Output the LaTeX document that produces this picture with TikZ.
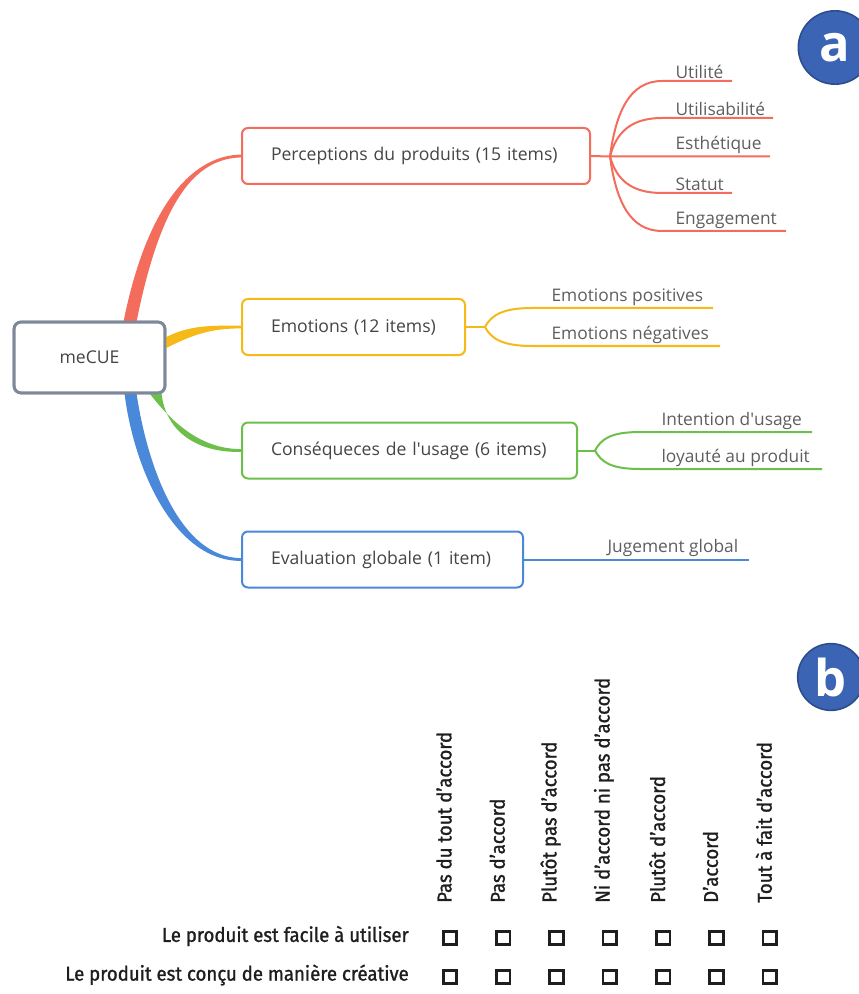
\documentclass[tikz,border=0pt]{standalone}
\usepackage{fontspec}
\setmainfont{Open Sans}
\newfontfamily\condf[FakeStretch=0.93,FakeBold=1.2]{Fira Sans}
\usetikzlibrary{calc}
\definecolor{redc}{HTML}{F36C5C}
\definecolor{yelc}{HTML}{F5B918}
\definecolor{grec}{HTML}{6CBF4B}
\definecolor{bluc}{HTML}{4A88DA}
\definecolor{grayc}{HTML}{7E8898}
\definecolor{txtc}{HTML}{454545}
\definecolor{leafc}{HTML}{5E5E5E}
\definecolor{circc}{HTML}{3C64B4}
\definecolor{circd}{HTML}{2C4C8E}
\definecolor{darkc}{HTML}{1E1E1E}
\begin{document}
\begin{tikzpicture}[x=0.75pt,y=-0.75pt,
  catbox/.style={draw=#1, line width=1.5pt, rounded corners=4.5pt, fill=white,
    anchor=west, minimum height=42pt, inner xsep=21.75pt, align=left,
    text=txtc, font=\fontsize{13.2}{15}\selectfont},
  rootbox/.style={draw=grayc, line width=2.2pt, rounded corners=5pt, fill=white, minimum width=113pt,
    minimum height=53pt, text=txtc, font=\fontsize{13.2}{15}\selectfont},
  leaf/.style={anchor=south west, inner sep=1pt, text=leafc, font=\fontsize{13}{15}\selectfont},
  twig/.style={draw=#1, line width=1.5pt},
  badge/.style={circle, fill=circc, draw=circd, line width=1.2pt, text=white,
    font=\fontsize{38}{38}\selectfont\bfseries},
  cbox/.style={draw=darkc, line width=2pt, minimum size=10.2pt, inner sep=0pt},
  rotlab/.style={rotate=90, anchor=west, inner sep=0pt, text=darkc, font=\condf\fontsize{15}{17}\selectfont},
  rowlab/.style={anchor=east, inner sep=0pt, text=darkc, font=\condf\fontsize{15}{17}\selectfont}
]
\useasboundingbox (0,0) rectangle (858,994);

% root
\node[rootbox] (me) at (89.5,357.5) {meCUE};

% category boxes
\node[catbox=redc, text width=217.5pt] (per) at (241,156) {Perceptions du produits (15 items)};
\node[catbox=yelc, text width=123.75pt] (emo) at (241,327) {Emotions (12 items)};
\node[catbox=grec, text width=207.75pt] (con) at (241,450.5) {Conséqueces de l\textquotesingle usage (6 items)};
\node[catbox=bluc, text width=167.25pt] (eva) at (241,559.5) {Evaluation globale (1 item)};

% tapered main branches
\fill[redc] ($(me.north)+(34,1)$) .. controls (148,200) and (195,155.3) .. ($(per.west)+(0,-1.4)$)
  -- ($(per.west)+(0,1.4)$) .. controls (195,158.7) and (161,200) .. ($(me.north)+(47,1)$) -- cycle;
\fill[yelc] ($(me.east)+(-1,-20)$) .. controls (190,325) and (210,325.6) .. ($(emo.west)+(0,-1.4)$)
  -- ($(emo.west)+(0,1.4)$) .. controls (210,328.4) and (192,335) .. ($(me.east)+(-1,-9)$) -- cycle;
\fill[grec] ($(me.south)+(60,-1)$) .. controls (176,428) and (205,449.1) .. ($(con.west)+(0,-1.4)$)
  -- ($(con.west)+(0,1.4)$) .. controls (200,452.9) and (166,434) .. ($(me.south)+(72,-1)$) -- cycle;
\fill[bluc] ($(me.south)+(35,-1)$) .. controls (134,470) and (175,561.4) .. ($(eva.west)+(0,1.4)$)
  -- ($(eva.west)+(0,-1.4)$) .. controls (181,557.6) and (148,470) .. ($(me.south)+(47,-1)$) -- cycle;
% root box redrawn on top of the branch ends
\node[rootbox] (me2) at (me) {meCUE};

% red sub-branches
\coordinate (fr) at (610,156.5);
\draw[twig=redc] (per.east) -- (fr);
\foreach \n/\y/\e in {1/81/732, 2/118/773, 3/156.5/770, 4/193/732, 5/231/786} {
  \coordinate (r\n) at (662,\y);
  \coordinate (r\n e) at (\e,\y);
  \draw[twig=redc] (fr) .. controls ($(fr)!0.6!(fr|-r\n)+(6,0)$) and ($(r\n)+(-32,0)$) .. (r\n) -- (r\n e);
}
\node[leaf] (lr1) at (674,80) {Utilité};
\node[leaf] (lr2) at (674,117) {Utilisabilité};
\node[leaf] (lr3) at (674,155.5) {Esthétique};
\node[leaf] (lr4) at (674,192) {Statut};
\node[leaf] (lr5) at (674,230) {Engagement};

% yellow sub-branches
\coordinate (fy) at (485,327);
\draw[twig=yelc] (emo.east) -- (fy);
\foreach \n/\y/\e in {1/308/713, 2/346/720} {
  \coordinate (y\n) at (532,\y);
  \coordinate (y\n e) at (\e,\y);
  \draw[twig=yelc] (fy) .. controls ($(fy)!0.6!(fy|-y\n)+(6,0)$) and ($(y\n)+(-30,0)$) .. (y\n) -- (y\n e);
}
\node[leaf] (ly1) at (550,307) {Emotions positives};
\node[leaf] (ly2) at (550,345) {Emotions négatives};

% green sub-branches
\coordinate (fg) at (595,450.5);
\draw[twig=grec] (con.east) -- (fg);
\foreach \n/\y/\e in {1/432/812, 2/469/822} {
  \coordinate (g\n) at (640,\y);
  \coordinate (g\n e) at (\e,\y);
  \draw[twig=grec] (fg) .. controls ($(fg)!0.6!(fg|-g\n)+(6,0)$) and ($(g\n)+(-30,0)$) .. (g\n) -- (g\n e);
}
\node[leaf] (lg1) at (660,431) {Intention d\textquotesingle usage};
\node[leaf] (lg2) at (660,468) {loyauté au produit};

% blue sub-branch
\coordinate (be) at (749,559.5);
\draw[twig=bluc] (eva.east) -- (be);
\node[leaf] (lb1) at (606,558.5) {Jugement global};

% badges
\node[badge, minimum size=55pt] (ba) at (835,47.5) {a};
\node[badge, minimum size=50pt] (bb) at (831,677) {b};

% questionnaire
\foreach \i/\lab in {1/Pas du tout d’accord, 2/Pas d’accord, 3/Plutôt pas d’accord,
  4/Ni d’accord ni pas d’accord, 5/Plutôt d’accord, 6/D’accord, 7/Tout à fait d’accord} {
  \pgfmathsetmacro{\cx}{450+53.3*(\i-1)}
  \node[cbox] (ca\i) at (\cx,938) {};
  \node[cbox] (cb\i) at (\cx,977) {};
  \node[rotlab] (h\i) at (\cx-6,903) {\lab};
}
\node[rowlab] (q1) at (409,936) {Le produit est facile à utiliser};
\node[rowlab] (q2) at (409,975) {Le produit est conçu de manière créative};
\end{tikzpicture}
\end{document}
